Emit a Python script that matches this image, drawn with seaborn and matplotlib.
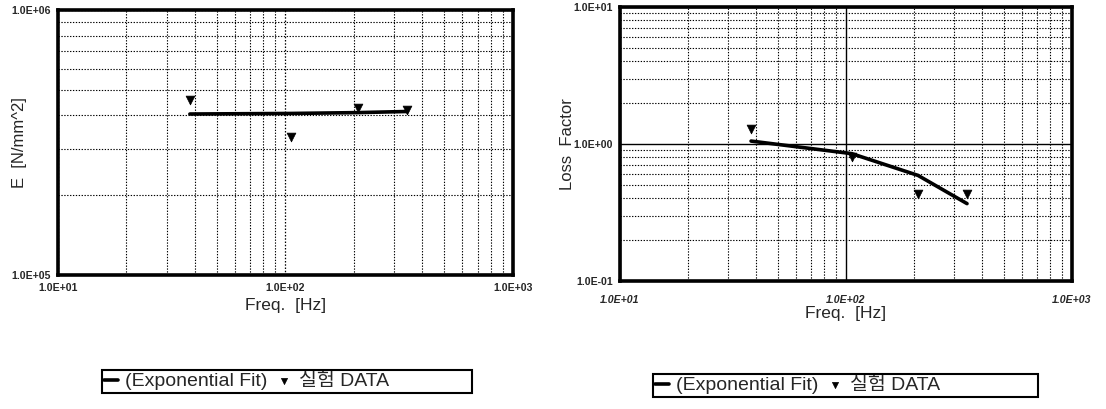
import numpy as np
import matplotlib
matplotlib.use("Agg")
import matplotlib.pyplot as plt
from matplotlib.ticker import FuncFormatter, NullFormatter, LogLocator
from matplotlib.patches import Rectangle
import seaborn as sns

# data
freq = [38, 106, 208, 343]
E_data = [4.57e5, 3.33e5, 4.27e5, 4.20e5]
E_fit = [4.05e5, 4.07e5, 4.10e5, 4.14e5]
loss_data = [1.28, 0.80, 0.434, 0.43]
loss_fit = [1.05, 0.85, 0.59, 0.367]

fit_label = "(Exponential Fit)"
data_label = "실험 DATA"

sns.set_style("white")
plt.rcParams['font.family'] = ['Liberation Sans', 'Noto Sans CJK KR']

fig = plt.figure(figsize=(11.06, 4.09), dpi=100)
ax1 = fig.add_axes([0.0524, 0.3276, 0.4114, 0.648])
ax2 = fig.add_axes([0.5606, 0.313, 0.4087, 0.670])

sci = FuncFormatter(lambda v, p: f"{v:.1E}")


def setup(ax, ylim, solid_major):
    ax.set_xscale('log')
    ax.set_yscale('log')
    ax.set_xlim(10, 1000)
    ax.set_ylim(*ylim)
    ax.xaxis.set_major_locator(LogLocator(base=10))
    ax.yaxis.set_major_locator(LogLocator(base=10))
    ax.xaxis.set_minor_locator(LogLocator(base=10, subs=np.arange(2, 10)))
    ax.yaxis.set_minor_locator(LogLocator(base=10, subs=np.arange(2, 10)))
    ax.xaxis.set_major_formatter(sci)
    ax.yaxis.set_major_formatter(sci)
    ax.xaxis.set_minor_formatter(NullFormatter())
    ax.yaxis.set_minor_formatter(NullFormatter())
    ax.grid(which='minor', color='black', linestyle=(0, (1.2, 1.4)), linewidth=0.8)
    if solid_major:
        ax.grid(which='major', color='black', linestyle='-', linewidth=1.0)
    else:
        ax.grid(which='major', color='black', linestyle=(0, (1.2, 1.4)), linewidth=0.9)
    for s in ax.spines.values():
        s.set_linewidth(2.6)
        s.set_color('black')
    ax.tick_params(which='major', length=3, width=1, color='black')
    ax.tick_params(which='minor', length=0)
    for t in ax.get_xticklabels() + ax.get_yticklabels():
        t.set_fontsize(7.6)
        t.set_fontweight('bold')


# left: E modulus
sns.lineplot(x=freq, y=E_fit, ax=ax1, color='black', linewidth=2.6, label=fit_label)
sns.scatterplot(x=freq, y=E_data, ax=ax1, marker='v', color='black', s=40,
                edgecolor='black', label=data_label, zorder=3)
setup(ax1, (1e5, 1e6), False)
ax1.tick_params(axis='x', pad=3)
ax1.tick_params(axis='y', pad=2)
ax1.set_ylabel("E  [N/mm^2]", fontsize=12)
ax1.yaxis.set_label_coords(-0.068, 0.5)
ax1.set_xlabel("Freq.  [Hz]", fontsize=12.5)
ax1.xaxis.set_label_coords(0.5, -0.085)

# right: loss factor
sns.lineplot(x=freq, y=loss_fit, ax=ax2, color='black', linewidth=2.6, label=fit_label)
sns.scatterplot(x=freq, y=loss_data, ax=ax2, marker='v', color='black', s=40,
                edgecolor='black', label=data_label, zorder=3)
setup(ax2, (0.1, 10), True)
ax2.tick_params(axis='x', pad=7)
ax2.tick_params(axis='y', pad=2)
for t in ax2.get_xticklabels():
    t.set_fontstyle('italic')
ax2.set_ylabel("Loss  Factor", fontsize=12)
ax2.yaxis.set_label_coords(-0.1, 0.5)
ax2.set_xlabel("Freq.  [Hz]", fontsize=12.5)
ax2.xaxis.set_label_coords(0.5, -0.09)

# legends below each panel, in a plain box
boxes = [(ax1, 102, 370, 370, 23), (ax2, 653, 374, 385, 23)]
for ax, bx, by, bw, bh in boxes:
    h, l = ax.get_legend_handles_labels()
    ax.legend(h, l, loc='center left', ncol=2, frameon=False, fontsize=14,
              bbox_to_anchor=((bx + 2) / 1106, 1 - (by + bh / 2) / 409),
              bbox_transform=fig.transFigure, borderaxespad=0, borderpad=0,
              handlelength=0.7, handletextpad=0.4, columnspacing=0.5,
              markerscale=0.7)
    fig.patches.append(Rectangle((bx / 1106, 1 - (by + bh) / 409), bw / 1106, bh / 409,
                                 transform=fig.transFigure, fill=False,
                                 edgecolor='black', linewidth=1.5))

fig.savefig("out.png", dpi=100)
